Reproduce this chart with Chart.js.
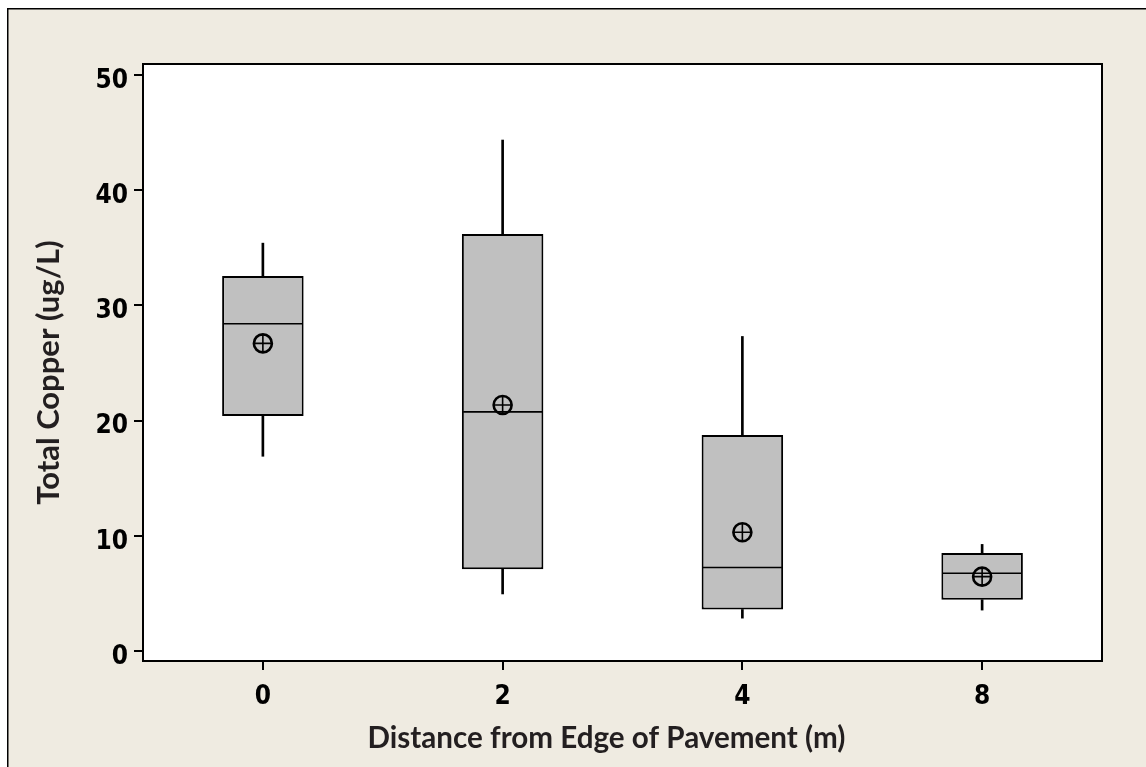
<!DOCTYPE html>
<html>
<head>
<meta charset="utf-8">
<script src="https://cdn.jsdelivr.net/npm/chart.js@4/dist/chart.umd.min.js"></script>
<style>
  html, body { margin: 0; padding: 0; background: #fff; }
  #wrap { width: 1146px; height: 767px; }
</style>
</head>
<body>
<div id="wrap"><canvas id="c" width="1146" height="767"></canvas></div>
<script>
// ---- data ----
const categories   = ['0', '2', '4', '8'];
const whiskerLow   = [16.9, 4.95, 2.85, 3.55];
const q1           = [20.4, 7.1, 3.6, 4.45];
const medians      = [28.4, 20.75, 7.25, 6.75];
const q3           = [32.55, 36.2, 18.75, 8.5];
const whiskerHigh  = [35.4, 44.35, 27.3, 9.25];
const means        = [26.7, 21.35, 10.3, 6.45];
const yTicks       = [0, 10, 20, 30, 40, 50];
const xTitle = 'Distance from Edge of Pavement (m)';
const yTitle = 'Total Copper (ug/L)';

const boxes      = categories.map((c, i) => [q1[i], q3[i]]);
const lowerWhisk = categories.map((c, i) => [whiskerLow[i], q1[i]]);
const upperWhisk = categories.map((c, i) => [q3[i], whiskerHigh[i]]);

const BG = '#efebe1';
const INK = '#000000';
const TITLE_INK = '#231f20';

const framePlugin = {
  id: 'frame',
  beforeDraw(chart) {
    const ctx = chart.ctx;
    const {left, top, right, bottom} = chart.chartArea;
    ctx.save();
    ctx.fillStyle = '#ffffff';
    ctx.fillRect(0, 0, chart.width, chart.height);
    ctx.fillStyle = BG;
    ctx.fillRect(8, 9, chart.width - 8, chart.height - 9);
    ctx.strokeStyle = INK;
    ctx.lineWidth = 1.5;
    ctx.beginPath();
    ctx.moveTo(7.75, chart.height);
    ctx.lineTo(7.75, 8.75);
    ctx.lineTo(chart.width, 8.75);
    ctx.stroke();
    ctx.fillStyle = '#ffffff';
    ctx.fillRect(left, top, right - left, bottom - top);
    ctx.restore();
  },
  afterDraw(chart) {
    const ctx = chart.ctx;
    const {left, top, right, bottom} = chart.chartArea;
    ctx.save();
    ctx.strokeStyle = INK;
    ctx.lineWidth = 2;
    ctx.strokeRect(left, top, right - left, bottom - top);

    // axis titles
    ctx.fillStyle = TITLE_INK;
    ctx.textAlign = 'center';
    ctx.textBaseline = 'alphabetic';
    ctx.font = "bold 29.6px Lato, 'Open Sans', sans-serif";
    ctx.fillText(xTitle, (left + right) / 2 - 16, bottom + 87);
    ctx.translate(left - 84, (top + bottom) / 2 + 10);
    ctx.rotate(-Math.PI / 2);
    ctx.font = "bold 31px Lato, 'Open Sans', sans-serif";
    ctx.fillText(yTitle, 0, 0);
    ctx.restore();
  }
};

const tickFont = {family: "'DejaVu Sans Condensed', 'Liberation Sans', sans-serif", weight: 'bold', size: 26};

new Chart(document.getElementById('c'), {
  type: 'bar',
  data: {
    labels: categories,
    datasets: [
      {
        type: 'line', label: 'mean-cross', data: means, showLine: false,
        pointStyle: 'cross', pointRadius: 8.5, borderColor: INK, borderWidth: 1.6,
        backgroundColor: 'transparent', order: 1
      },
      {
        type: 'line', label: 'mean', data: means, showLine: false,
        pointStyle: 'circle', pointRadius: 9, borderColor: INK, borderWidth: 2.6,
        backgroundColor: 'transparent', order: 2
      },
      {
        type: 'line', label: 'median', data: medians, showLine: false,
        pointStyle: 'line', pointRadius: 39.5, borderColor: INK, borderWidth: 1.6,
        order: 3
      },
      {
        label: 'box', data: boxes, grouped: false,
        backgroundColor: '#c0c0c0', borderColor: INK, borderWidth: 2,
        borderSkipped: false, barPercentage: 0.34, categoryPercentage: 1, order: 4
      },
      {
        label: 'upper whisker', data: upperWhisk, grouped: false,
        backgroundColor: INK, borderWidth: 0, barThickness: 2, order: 5
      },
      {
        label: 'lower whisker', data: lowerWhisk, grouped: false,
        backgroundColor: INK, borderWidth: 0, barThickness: 2, order: 5
      }
    ]
  },
  options: {
    responsive: false,
    animation: false,
    events: [],
    layout: { padding: { top: 64, right: 44, left: 0, bottom: 0 } },
    plugins: { legend: { display: false }, tooltip: { enabled: false } },
    scales: {
      x: {
        type: 'category',
        offset: true,
        afterFit(scale) { scale.height = 106; },
        border: { display: false },
        grid: { display: true, offset: false, drawOnChartArea: false, drawTicks: true,
                tickLength: 9, color: INK, lineWidth: 2 },
        ticks: { font: tickFont, color: INK, padding: 12, maxRotation: 0 },
        title: { display: false }
      },
      y: {
        type: 'linear',
        min: -0.87, max: 50.95,
        afterBuildTicks(scale) { scale.ticks = yTicks.map(v => ({ value: v })); },
        afterFit(scale) { scale.width = 143; },
        border: { display: false },
        grid: { display: true, drawOnChartArea: false, drawTicks: true,
                tickLength: 9, color: INK, lineWidth: 2 },
        ticks: { font: tickFont, color: INK, padding: 6, labelOffset: 6 },
        title: { display: false }
      }
    }
  },
  plugins: [framePlugin]
});
</script>
</body>
</html>
